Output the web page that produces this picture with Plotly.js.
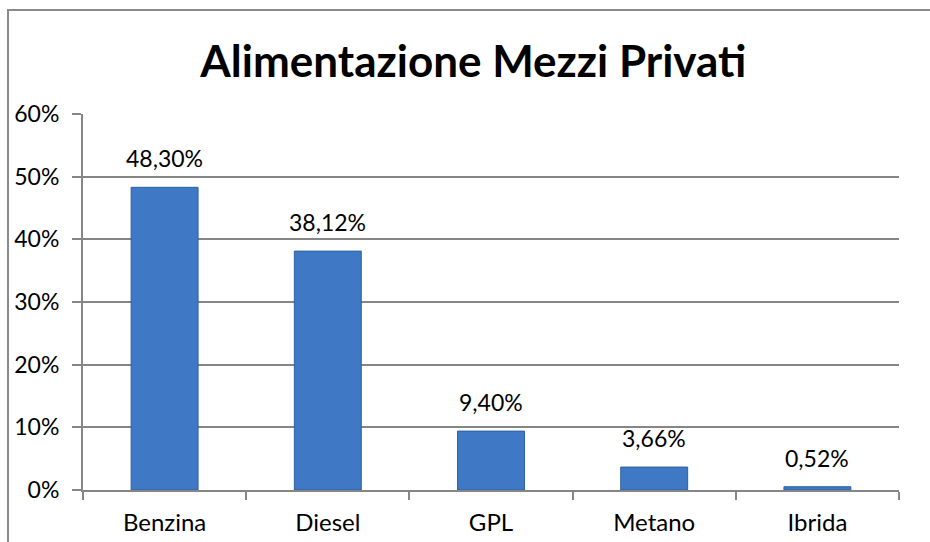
<!DOCTYPE html>
<html>
<head>
<meta charset="utf-8">
<script src="https://cdn.plot.ly/plotly-3.0.1.min.js"></script>
<style>
  html, body { margin: 0; padding: 0; background: #fff; overflow: hidden; }
  #wrap { position: relative; width: 930px; height: 542px; }
  #chart { position: absolute; left: 0; top: 0; width: 930px; height: 542px; }
  #frame { position: absolute; left: 7px; top: 9px; width: 960px; height: 600px;
           border-left: 2px solid #8a8a8a; border-top: 2px solid #8a8a8a; pointer-events: none; }
</style>
</head>
<body>
<div id="wrap">
  <div id="chart"></div>
  <div id="frame"></div>
</div>
<script>
const categories = ["Benzina", "Diesel", "GPL", "Metano", "Ibrida"];
const values = [48.30, 38.12, 9.40, 3.66, 0.52];
const valueLabels = ["48,30%", "38,12%", "9,40%", "3,66%", "0,52%"];
const tickVals = [0, 10, 20, 30, 40, 50, 60];
const tickText = ["0%", "10%", "20%", "30%", "40%", "50%", "60%"];

const FONT = "Lato, 'Liberation Sans', sans-serif";

const trace = {
  type: "bar",
  x: categories,
  y: values,
  width: 0.41,
  marker: { color: "#3f79c6", line: { color: "#2f5f9f", width: 1 } },
  hoverinfo: "skip"
};

const annotations = categories.map((c, i) => ({
  x: c, y: values[i], xref: "x", yref: "y",
  text: valueLabels[i], showarrow: false,
  yanchor: "bottom", yshift: 13,
  font: { family: FONT, size: 23, color: "#000" }
}));

const layout = {
  width: 930, height: 542,
  margin: { l: 83, r: 31, t: 114, b: 52 },
  paper_bgcolor: "#fff", plot_bgcolor: "#fff",
  showlegend: false,
  bargap: 0.59,
  title: {
    text: "<b>Alimentazione Mezzi Privati</b>",
    font: { family: FONT, size: 44, color: "#000" },
    x: 0.509, xanchor: "center", xref: "container",
    y: 0.887, yanchor: "middle", yref: "container"
  },
  xaxis: {
    type: "category",
    showgrid: false,
    showline: true, linecolor: "#868686", linewidth: 2,
    ticks: "outside", ticklen: 8, tickcolor: "#868686", tickwidth: 2,
    tickson: "boundaries",
    ticklabelstandoff: 10,
    tickfont: { family: FONT, size: 24, color: "#000" },
    fixedrange: true
  },
  yaxis: {
    range: [0, 60],
    tickvals: tickVals, ticktext: tickText,
    showgrid: true, gridcolor: "#868686", gridwidth: 2,
    showline: true, linecolor: "#868686", linewidth: 2,
    ticks: "outside", ticklen: 9, tickcolor: "#868686", tickwidth: 2,
    ticklabelstandoff: 8,
    zeroline: false,
    tickfont: { family: FONT, size: 23, color: "#000" },
    fixedrange: true
  },
  annotations: annotations
};

Plotly.newPlot("chart", [trace], layout, { staticPlot: true, displayModeBar: false });
</script>
</body>
</html>
